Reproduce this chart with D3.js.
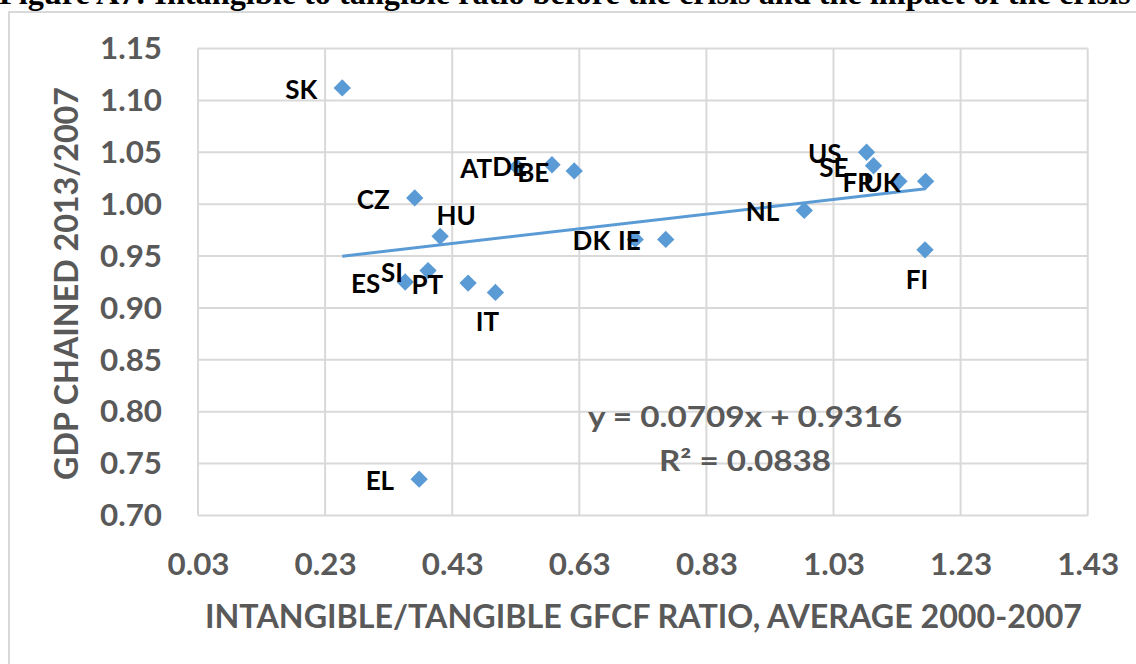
<!DOCTYPE html>
<html>
<head>
<meta charset="utf-8">
<script src="https://cdn.jsdelivr.net/npm/d3@7"></script>
<style>
  html, body { margin: 0; padding: 0; background: #ffffff; overflow: hidden; }
  svg { display: block; }
  text { font-family: Lato, "Open Sans", sans-serif; font-weight: 700; }
</style>
</head>
<body>
<svg id="chart" width="1136" height="664"></svg>
<script>
// ---- data ----
const countries = ["SK","CZ","HU","AT","DE","BE","ES","SI","PT","IT","DK","IE","US","SE","FR","UK","NL","FI","EL"];
const ratio     = [0.257,0.371,0.411,0.532,0.587,0.622,0.356,0.392,0.455,0.498,0.718,0.766,1.082,1.093,1.133,1.175,0.984,1.174,0.378];
const gdp       = [1.112,1.006,0.969,1.036,1.038,1.032,0.925,0.936,0.924,0.915,0.966,0.966,1.050,1.037,1.022,1.022,0.994,0.956,0.735];
const xTicks = [0.03,0.23,0.43,0.63,0.83,1.03,1.23,1.43];
const yTicks = [0.70,0.75,0.80,0.85,0.90,0.95,1.00,1.05,1.10,1.15];
const trendSlope = [0.0709];
const trendIntercept = [0.9316];
const equationLines = ["y = 0.0709x + 0.9316", "R\u00B2 = 0.0838"];
const titleText = "Figure A7: Intangible to tangible ratio before the crisis and the impact of the crisis";
const xTitle = "INTANGIBLE/TANGIBLE  GFCF RATIO, AVERAGE 2000-2007";
const yTitle = "GDP CHAINED 2013/2007";

// ---- layout ----
const plot = { left: 198, right: 1087.7, top: 48.5, bottom: 515.5 };
const labelPlacement = { HU: "aboveRight", IT: "below", FI: "below" };
const equationWidths = [314, 172];
const gray = "#595959", grid = "#d9d9d9", blue = "#5B9BD5";

const svg = d3.select("#chart");
const x = d3.scaleLinear().domain([0.03, 1.43]).range([plot.left, plot.right]);
const y = d3.scaleLinear().domain([0.70, 1.15]).range([plot.bottom, plot.top]);

// outer chart frame
svg.append("rect").attr("x", 9).attr("y", 12).attr("width", 1300).attr("height", 800)
  .attr("fill", "#fff").attr("stroke", grid).attr("stroke-width", 2);

// title (cut off at top)
const title = svg.append("text").attr("x", -1).attr("y", 4)
  .style("font-family", "'Liberation Serif', 'Times New Roman', serif")
  .style("font-weight", "700").style("font-size", "26px").attr("fill", "#000").text(titleText);
const tw = title.node().getComputedTextLength();
title.style("font-size", (26 * 1132 / tw) + "px");

// gridlines
svg.append("g").selectAll("line").data(yTicks).join("line")
  .attr("x1", plot.left).attr("x2", plot.right)
  .attr("y1", d => y(d)).attr("y2", d => y(d))
  .attr("stroke", grid).attr("stroke-width", 2);
svg.append("g").selectAll("line").data(xTicks).join("line")
  .attr("y1", plot.top).attr("y2", plot.bottom)
  .attr("x1", d => x(d)).attr("x2", d => x(d))
  .attr("stroke", grid).attr("stroke-width", 2);

// axes (labels only)
const yAxis = d3.axisLeft(y).tickValues(yTicks).tickFormat(d3.format(".2f")).tickSize(0).tickPadding(0);
const gy = svg.append("g").attr("transform", `translate(162,0)`).call(yAxis);
gy.select(".domain").remove();
gy.selectAll("text").attr("fill", gray).style("font-size", "30px").attr("dy", "0.34em")
  .attr("textLength", 62).attr("lengthAdjust", "spacingAndGlyphs");

const xAxis = d3.axisBottom(x).tickValues(xTicks).tickFormat(d3.format(".2f")).tickSize(0).tickPadding(0);
const gx = svg.append("g").attr("transform", `translate(0,575)`).call(xAxis);
gx.select(".domain").remove();
gx.selectAll("text").attr("fill", gray).style("font-size", "30px").attr("dy", "0")
  .attr("textLength", 62).attr("lengthAdjust", "spacingAndGlyphs");

// axis titles
svg.append("text").attr("x", 643.5).attr("y", 628).attr("text-anchor", "middle")
  .attr("fill", gray).style("font-size", "32px")
  .attr("textLength", 877).attr("lengthAdjust", "spacingAndGlyphs").text(xTitle);
svg.append("text").attr("transform", "translate(78,283.5) rotate(-90)").attr("text-anchor", "middle")
  .attr("fill", gray).style("font-size", "32px")
  .attr("textLength", 393).attr("lengthAdjust", "spacingAndGlyphs").text(yTitle);

// data points
const pts = countries.map((c, i) => ({ c, x: ratio[i], y: gdp[i] }));
const diamond = d3.symbol().type(d3.symbolSquare).size(150);
svg.append("g").selectAll("path").data(pts).join("path")
  .attr("d", diamond)
  .attr("transform", d => `translate(${x(d.x)},${y(d.y)}) rotate(45)`)
  .attr("fill", blue);

// trendline
const xMin = d3.min(ratio), xMax = d3.max(ratio);
const trend = [xMin, xMax].map(v => [v, trendSlope[0] * v + trendIntercept[0]]);
svg.append("path").datum(trend)
  .attr("d", d3.line().x(d => x(d[0])).y(d => y(d[1])))
  .attr("fill", "none").attr("stroke", blue).attr("stroke-width", 3);

// data labels
svg.append("g").selectAll("text").data(pts).join("text")
  .attr("fill", "#000").style("font-size", "26px")
  .each(function(d) {
    const px = x(d.x), py = y(d.y);
    const p = labelPlacement[d.c] || "left";
    const t = d3.select(this).text(d.c);
    if (p === "left") {
      t.attr("text-anchor", "end").attr("x", px - 25).attr("y", py + 11);
    } else if (p === "below") {
      t.attr("text-anchor", "middle").attr("x", px - 8).attr("y", py + 39);
    } else {
      t.attr("text-anchor", "middle").attr("x", px + 16).attr("y", py - 11);
    }
  });

// equation
svg.append("g").selectAll("text").data(equationLines).join("text")
  .attr("x", 745).attr("y", (d, i) => 427 + i * 44)
  .attr("text-anchor", "middle").attr("fill", gray).style("font-size", "28px")
  .attr("textLength", (d, i) => equationWidths[i]).attr("lengthAdjust", "spacingAndGlyphs")
  .text(d => d);
</script>
</body>
</html>
